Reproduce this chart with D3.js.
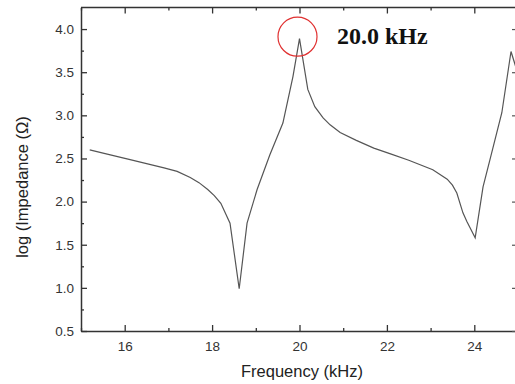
<!DOCTYPE html>
<html lang="en">
<head>
<meta charset="UTF-8">
<title>Impedance</title>
<script src="https://d3js.org/d3.v7.min.js"></script>
<style>
  body { margin: 0; background: #fff; }
  svg { display: block; }
</style>
</head>
<body>
<div id="chart"></div>
<script>
// frequency (kHz) and log impedance
const freq = [15.2, 15.6, 16.1, 16.5, 16.9, 17.2, 17.5, 17.7, 17.9, 18.05, 18.2, 18.41, 18.62, 18.8, 19.03, 19.32, 19.62, 19.85, 20.0,
              20.19, 20.35, 20.54, 20.7, 20.93, 21.3, 21.7, 22.1, 22.5, 23.05, 23.38, 23.5, 23.6, 23.74, 23.83, 24.02,
              24.2, 24.36, 24.63, 24.84, 24.95];
const logZ = [2.60, 2.55, 2.49, 2.44, 2.39, 2.35, 2.28, 2.22, 2.14, 2.07, 1.98, 1.75, 0.99, 1.75, 2.14, 2.54, 2.91, 3.45, 3.89,
              3.30, 3.10, 2.97, 2.89, 2.80, 2.71, 2.62, 2.55, 2.48, 2.37, 2.26, 2.19, 2.10, 1.87, 1.77, 1.58,
              2.17, 2.49, 3.03, 3.74, 3.56];
const xTicks = [16, 18, 20, 22, 24];
const yTicks = [0.5, 1.0, 1.5, 2.0, 2.5, 3.0, 3.5, 4.0];
const peakFreq = 20.0, peakVal = 3.9;
const peakLabel = "20.0 kHz";

const width = 515, height = 384;
const svg = d3.select("#chart").append("svg").attr("width", width).attr("height", height);

const x = d3.scaleLinear().domain([15, 25]).range([81, 518]);
const y = d3.scaleLinear().domain([0.5, 4.25]).range([331, 7.5]);

const axisColor = "#333";
const fontSans = "Arial, 'Liberation Sans', sans-serif";

// frame: top and right
svg.append("line").attr("x1", x(15)).attr("x2", x(25)).attr("y1", y(4.25)).attr("y2", y(4.25))
  .attr("stroke", axisColor).attr("stroke-width", 1.5);
svg.append("line").attr("x1", x(25)).attr("x2", x(25)).attr("y1", y(4.25)).attr("y2", y(0.5))
  .attr("stroke", axisColor).attr("stroke-width", 1.5);

// minor ticks
const xMinor = d3.range(15, 25.01, 1).filter(v => !xTicks.includes(v));
const yMinor = d3.range(0.75, 4.25, 0.5);

function styleAxis(g) {
  g.select(".domain").attr("stroke", axisColor).attr("stroke-width", 1.5);
  g.selectAll(".tick line").attr("stroke", axisColor).attr("stroke-width", 1.3);
  g.selectAll(".tick text").attr("fill", "#333").attr("font-family", fontSans).attr("font-size", 13.5);
}

const gx = svg.append("g").attr("transform", `translate(0,${y(0.5)})`)
  .call(d3.axisBottom(x).tickValues(xTicks).tickFormat(d3.format("d")).tickSizeInner(-6).tickSizeOuter(0).tickPadding(10));
styleAxis(gx);
svg.append("g").attr("transform", `translate(0,${y(0.5)})`)
  .call(d3.axisBottom(x).tickValues(xMinor).tickFormat("").tickSizeInner(-3).tickSizeOuter(0))
  .call(g => { g.select(".domain").remove(); g.selectAll("line").attr("stroke", axisColor).attr("stroke-width", 1.3); });

const gy = svg.append("g").attr("transform", `translate(${x(15)},0)`)
  .call(d3.axisLeft(y).tickValues(yTicks).tickFormat(d3.format(".1f")).tickSizeInner(-6).tickSizeOuter(0).tickPadding(7));
styleAxis(gy);
svg.append("g").attr("transform", `translate(${x(15)},0)`)
  .call(d3.axisLeft(y).tickValues(yMinor).tickFormat("").tickSizeInner(-3).tickSizeOuter(0))
  .call(g => { g.select(".domain").remove(); g.selectAll("line").attr("stroke", axisColor).attr("stroke-width", 1.3); });

// top ticks
svg.append("g").attr("transform", `translate(0,${y(4.25)})`)
  .call(d3.axisTop(x).tickValues(xTicks).tickFormat("").tickSizeInner(-6).tickSizeOuter(0))
  .call(g => { g.select(".domain").remove(); g.selectAll("line").attr("stroke", axisColor).attr("stroke-width", 1.3); });
svg.append("g").attr("transform", `translate(0,${y(4.25)})`)
  .call(d3.axisTop(x).tickValues(xMinor).tickFormat("").tickSizeInner(-3).tickSizeOuter(0))
  .call(g => { g.select(".domain").remove(); g.selectAll("line").attr("stroke", axisColor).attr("stroke-width", 1.3); });

// right ticks
svg.append("g").attr("transform", `translate(${x(25)},0)`)
  .call(d3.axisRight(y).tickValues(yTicks).tickFormat("").tickSizeInner(-6).tickSizeOuter(0))
  .call(g => { g.select(".domain").remove(); g.selectAll("line").attr("stroke", "#555").attr("stroke-width", 1.2); });

// curve
const data = freq.map((f, i) => ({ f: f, v: logZ[i] }));
svg.append("path").datum(data)
  .attr("fill", "none").attr("stroke", "#555").attr("stroke-width", 1.2)
  .attr("d", d3.line().x(d => x(d.f)).y(d => y(d.v)));

// peak marker
svg.append("circle").attr("cx", x(peakFreq) - 2).attr("cy", y(peakVal) - 1).attr("r", 19.5)
  .attr("fill", "none").attr("stroke", "#e03030").attr("stroke-width", 1.2);
svg.append("text").attr("x", 337).attr("y", 44)
  .attr("font-family", "'Liberation Serif', 'Times New Roman', serif").attr("font-weight", "bold")
  .attr("font-size", 24).attr("fill", "#111").text(peakLabel);

// axis titles
svg.append("text").attr("x", 302).attr("y", 377).attr("text-anchor", "middle")
  .attr("font-family", fontSans).attr("font-size", 16.5).attr("fill", "#222").text("Frequency (kHz)");
svg.append("text").attr("transform", "translate(28,187) rotate(-90)").attr("text-anchor", "middle")
  .attr("font-family", fontSans).attr("font-size", 16.5).attr("fill", "#222").text("log (Impedance (Ω)");
</script>
</body>
</html>
